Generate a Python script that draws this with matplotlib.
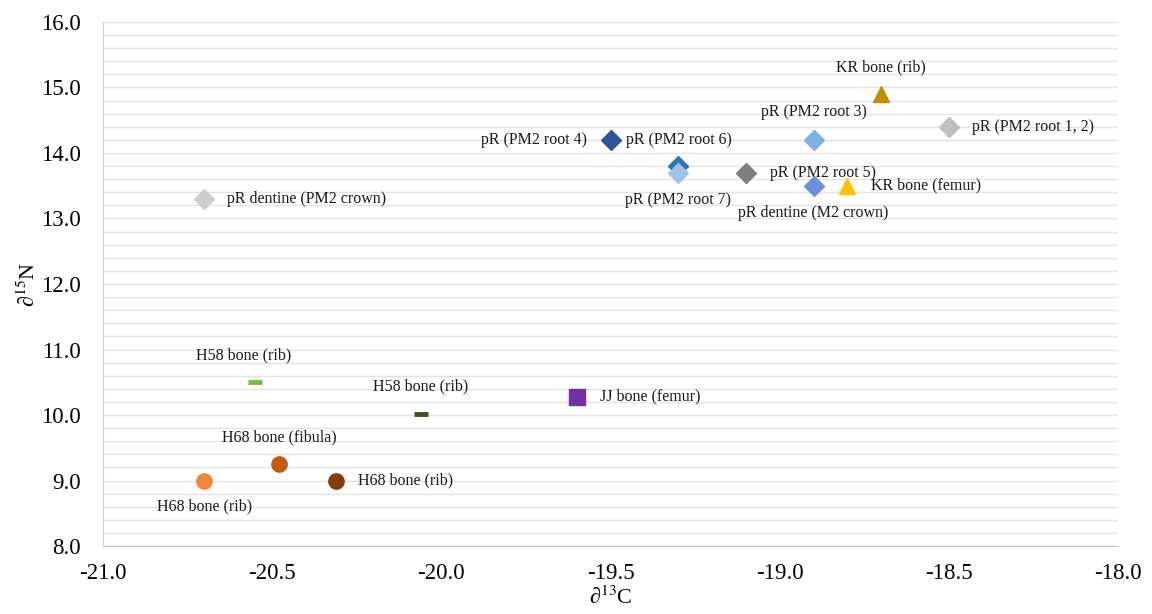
import matplotlib
matplotlib.use("Agg")
import matplotlib.pyplot as plt
import numpy as np

plt.rcParams['font.family'] = ['Liberation Serif', 'DejaVu Serif']
plt.rcParams['mathtext.fontset'] = 'stix'

# isotope values per sample
labels = ['pR dentine (PM2 crown)', 'pR (PM2 root 6)', 'pR (PM2 root 4)', 'pR (PM2 root 7)',
          'pR (PM2 root 5)', 'pR (PM2 root 3)', 'pR dentine (M2 crown)', 'KR bone (femur)',
          'KR bone (rib)', 'pR (PM2 root 1, 2)', 'H58 bone (rib)', 'H58 bone (rib)',
          'JJ bone (femur)', 'H68 bone (fibula)', 'H68 bone (rib)', 'H68 bone (rib)']
d13c = [-20.7, -19.5, -19.3, -19.3, -19.1, -18.9, -18.9, -18.8,
        -18.7, -18.5, -20.55, -20.06, -19.6, -20.48, -20.7, -20.31]
d15n = [13.3, 14.2, 13.8, 13.7, 13.7, 14.2, 13.5, 13.5,
        14.9, 14.4, 10.5, 10.02, 10.28, 9.25, 9.0, 9.0]

markers = ['D', 'D', 'D', 'D', 'D', 'D', 'D', '^', '^', 'D', '_', '_', 's', 'o', 'o', 'o']
colors = ['#CDCDCD', '#2F5597', '#2E75B6', '#9DC3E6', '#7F7F7F', '#7FB2E0', '#6F8FD8', '#FFC000',
          '#BF9000', '#BFBFBF', '#70C04A', '#385723', '#7030A0', '#C55A11', '#F4883A', '#843C0C']
sizes = [10, 10, 10, 10, 10, 10, 10, 12, 12, 10, 10, 10, 11, 11, 11, 11]
# label offsets in pixels (dx, dy) and horizontal alignment
offsets = [(23, 0, 'left'), (15, 0, 'left'), (-91, 26, 'right'), (0, -27, 'center'),
           (24, 0, 'left'), (0, 28, 'center'), (0, -27, 'center'), (24, 0, 'left'),
           (0, 27, 'center'), (23, 0, 'left'), (-12, 27, 'center'), (0, 27, 'center'),
           (23, 0, 'left'), (0, 27, 'center'), (0, -26, 'center'), (22, 0, 'left')]

fig = plt.figure(figsize=(11.52, 6.14), dpi=100)
ax = fig.add_axes([0.0894, 0.1107, 0.8811, 0.8535])

ax.set_xlim(-21, -18)
ax.set_ylim(8, 16)
ax.set_xticks(np.arange(-21, -17.9, 0.5))
ax.set_yticks(np.arange(8, 16.1, 1))
ax.set_xticklabels(['%.1f' % v for v in np.arange(-21, -17.9, 0.5)])
ax.set_yticklabels(['%.1f' % v for v in np.arange(8, 16.1, 1)])
ax.set_yticks(np.arange(8, 16.01, 0.2), minor=True)
ax.grid(True, axis='y', which='both', color='#E3E3E3', linewidth=1)
ax.set_axisbelow(True)
ax.tick_params(axis='both', which='both', length=0, labelsize=16.5)
ax.tick_params(axis='y', pad=16)
ax.tick_params(axis='x', pad=12)
for s in ['top', 'right']:
    ax.spines[s].set_visible(False)
ax.spines['left'].set_color('#D0D0D0')
ax.spines['bottom'].set_color('#C0C0C0')

for i in range(len(labels)):
    if markers[i] == '_':
        ax.plot(d13c[i], d15n[i], marker='_', color=colors[i], markersize=sizes[i],
                markeredgewidth=3.5, linestyle='none')
    else:
        ax.plot(d13c[i], d15n[i], marker=markers[i], color=colors[i], markersize=sizes[i],
                markeredgecolor=colors[i], linestyle='none')
    dx, dy, ha = offsets[i]
    ax.annotate(labels[i], (d13c[i], d15n[i]), xytext=(dx, dy), textcoords='offset pixels',
                ha=ha, va='center', fontsize=11.5, color='#1a1a1a')

ax.set_xlabel('∂$^{13}$C', fontsize=16, labelpad=2)
ax.set_ylabel('∂$^{15}$N', fontsize=16, labelpad=1)

fig.savefig('out.png', dpi=100)
